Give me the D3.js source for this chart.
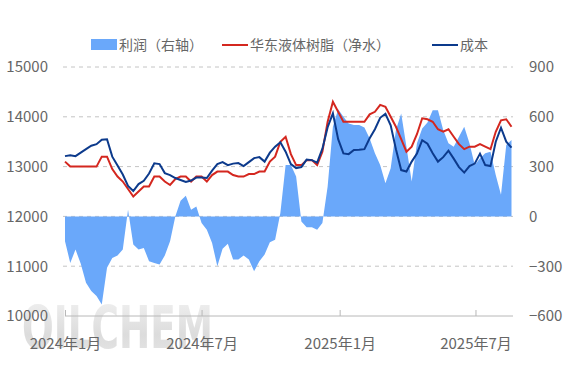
<!DOCTYPE html>
<html>
<head>
<meta charset="utf-8">
<script src="https://cdn.jsdelivr.net/npm/d3@7"></script>
<style>
  body { margin: 0; background: #fff; }
  svg { display: block; font-family: "Noto Sans CJK SC", "Noto Sans", sans-serif; }
</style>
</head>
<body>
<svg width="567" height="378"></svg>
<script>
// weekly samples starting 2024-01-01
const startDate = new Date(2024, 0, 1);
const endDate = new Date(2025, 7, 20);

// 利润 (right axis)
const profit = [
  -150, -280, -200, -285, -400, -450, -480, -530, -310, -250,
  -235, -200, 40, -170, -200, -190, -270, -280, -290, -235,
  -150, 0, 95, 125, 40, 60, -40, -80, -160, -300,
  -195, -165, -260, -260, -235, -260, -330, -270, -230, -155,
  -140, 20, 310, 310, 240, -30, -65, -65, -80, -40,
  180, 540, 645, 600, 560, 550, 550, 535, 470, 380,
  310, 200, 290, 520, 620, 420, 210, 440, 530, 565,
  640, 640, 520, 440, 420, 480, 540, 440, 310, 350,
  380, 390, 250, 130, 430, 460
];

// 华东液体树脂（净水）
const price = [
  13100, 13000, 13000, 13000, 13000, 13000, 13000, 13200, 13200, 12950,
  12800, 12700, 12550, 12400, 12500, 12600, 12600, 12800, 12800, 12700,
  12630, 12750, 12800, 12800, 12700, 12800, 12800, 12700, 12830, 12900,
  12900, 12900, 12830, 12800, 12800, 12850, 12850, 12900, 12900, 13100,
  13200, 13500, 13600, 13250, 13030, 13030, 13130, 13130, 13030, 13300,
  13900, 14300, 14100, 13900, 13900, 13900, 13900, 13900, 14050, 14100,
  14240, 14200, 14000, 13800, 13550, 13300, 13400, 13650, 13970, 13950,
  13900, 13750, 13700, 13750, 13600, 13450, 13350, 13400, 13400, 13450,
  13400, 13350, 13700, 13930, 13950, 13800
];

// 成本
const cost = [
  13210, 13230, 13210, 13280, 13350, 13420, 13450, 13540, 13550, 13200,
  13020, 12840, 12610, 12510, 12650, 12715, 12860, 13065, 13050, 12870,
  12830, 12770, 12730, 12690, 12720, 12780, 12780, 12770, 12920, 13050,
  13090, 13030, 13060, 13070, 13010, 13090, 13170, 13190, 13100, 13280,
  13400, 13490, 13300, 13050, 12970, 12990, 13140, 13130, 13080, 13360,
  13790, 14070, 13550, 13265, 13250, 13335, 13340, 13350, 13570, 13750,
  13980, 14060, 13830, 13350, 12930, 12900, 13100, 13260, 13530, 13460,
  13270, 13100, 13190, 13320, 13160, 12990, 12880, 13010, 13060, 13260,
  13030, 13010, 13500, 13780, 13500, 13380
];

const leftTicks = [10000, 11000, 12000, 13000, 14000, 15000];
const rightTicks = [-600, -300, 0, 300, 600, 900];
const xTicks = [new Date(2024, 0, 1), new Date(2024, 6, 1), new Date(2025, 0, 1), new Date(2025, 6, 1)];

const dates = profit.map((d, i) => d3.timeDay.offset(startDate, i * 7));

const svg = d3.select('svg');
const plotLeft = 65, plotRight = 513, plotTop = 67, plotBottom = 316;

const x = d3.scaleTime().domain([startDate, endDate]).range([plotLeft, plotRight]);
const yL = d3.scaleLinear().domain([10000, 15000]).range([plotBottom, plotTop]);
const yR = d3.scaleLinear().domain([-600, 900]).range([plotBottom, plotTop]);

// watermark
const defs = svg.append('defs');
const grad = defs.append('linearGradient').attr('id', 'wm').attr('x1', 0).attr('y1', 0).attr('x2', 0).attr('y2', 1);
grad.append('stop').attr('offset', '0%').attr('stop-color', '#f3f3f3');
grad.append('stop').attr('offset', '60%').attr('stop-color', '#dcdcdc');
grad.append('stop').attr('offset', '100%').attr('stop-color', '#e6e6e6');
svg.append('text')
    .attr('x', 22).attr('y', 348)
    .attr('textLength', 191).attr('lengthAdjust', 'spacingAndGlyphs')
    .style('font-family', 'DejaVu Sans Condensed, Liberation Sans Narrow, sans-serif')
    .style('font-size', '59px')
    .style('font-weight', 'bold')
    .attr('fill', 'url(#wm)')
    .text('OILCHEM');

// grid
svg.append('g')
  .selectAll('line')
  .data(leftTicks.filter(d => d !== 10000))
  .enter().append('line')
    .attr('x1', plotLeft - 2).attr('x2', plotRight)
    .attr('y1', d => yL(d)).attr('y2', d => yL(d))
    .attr('stroke', '#c4c4c4')
    .attr('stroke-dasharray', '4,4');

// profit area
const area = d3.area()
    .x((d, i) => x(dates[i]))
    .y0(yR(0))
    .y1(d => yR(d));
svg.append('path')
    .datum(profit)
    .attr('fill', '#6aa8fa')
    .attr('d', area);

const line = yScale => d3.line()
    .x((d, i) => x(dates[i]))
    .y(d => yScale(d));

svg.append('path')
    .datum(price)
    .attr('fill', 'none')
    .attr('stroke', '#d4271f')
    .attr('stroke-width', 2)
    .attr('d', line(yL));

svg.append('path')
    .datum(cost)
    .attr('fill', 'none')
    .attr('stroke', '#0c3a8c')
    .attr('stroke-width', 2)
    .attr('d', line(yL));

// bottom axis
const xAxis = svg.append('g')
    .attr('transform', `translate(0,${plotBottom})`)
    .call(d3.axisBottom(x).tickValues(xTicks).tickFormat(d3.timeFormat('%Y年%-m月')).tickSizeInner(-6).tickSizeOuter(0).tickPadding(22));
xAxis.select('.domain').attr('stroke', '#b8b8b8').attr('d', `M${plotLeft},0H${plotRight}`);
xAxis.selectAll('.tick line').attr('stroke', '#b8b8b8');
xAxis.selectAll('text').attr('fill', '#666').style('font-size', '15px').style('font-family', 'Noto Sans CJK SC');

// left axis labels
const yAxisL = svg.append('g')
    .attr('transform', `translate(${plotLeft - 17},0)`)
    .call(d3.axisLeft(yL).tickValues(leftTicks).tickFormat(d3.format('d')).tickSize(0).tickPadding(0));
yAxisL.select('.domain').remove();
yAxisL.selectAll('text').attr('fill', '#666').style('font-size', '15px').style('font-family', 'Noto Sans CJK SC');

// right axis labels
const yAxisR = svg.append('g')
    .attr('transform', `translate(${plotRight + 16},0)`)
    .call(d3.axisRight(yR).tickValues(rightTicks).tickFormat(d3.format('d')).tickSize(0).tickPadding(0));
yAxisR.select('.domain').remove();
yAxisR.selectAll('text').attr('fill', '#666').style('font-size', '15px').style('font-family', 'Noto Sans CJK SC');

// legend
const legend = svg.append('g').style('font-size', '14px').attr('fill', '#666');
legend.append('rect').attr('x', 91).attr('y', 39).attr('width', 26).attr('height', 11).attr('fill', '#6aa8fa');
legend.append('text').attr('x', 119).attr('y', 50).text('利润（右轴）');
legend.append('line').attr('x1', 222).attr('x2', 248).attr('y1', 45).attr('y2', 45).attr('stroke', '#d4271f').attr('stroke-width', 2);
legend.append('text').attr('x', 250).attr('y', 50).text('华东液体树脂（净水）');
legend.append('line').attr('x1', 432).attr('x2', 458).attr('y1', 45).attr('y2', 45).attr('stroke', '#0c3a8c').attr('stroke-width', 2);
legend.append('text').attr('x', 460).attr('y', 50).text('成本');
</script>
</body>
</html>
